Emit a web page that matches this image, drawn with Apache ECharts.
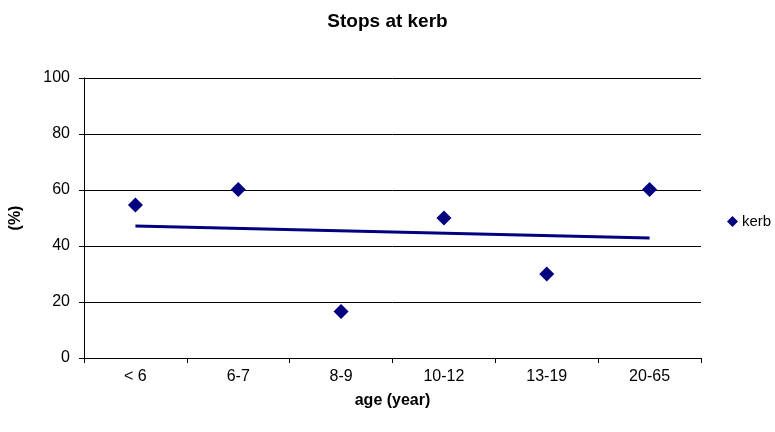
<!DOCTYPE html>
<html>
<head>
<meta charset="utf-8">
<script src="https://cdn.jsdelivr.net/npm/echarts@6/dist/echarts.min.js"></script>
<style>html,body{margin:0;padding:0;background:#fff;}#c{width:775px;height:432px;}</style>
</head>
<body>
<div id="c"></div>
<script>
const categories = ['< 6', '6-7', '8-9', '10-12', '13-19', '20-65'];
const kerbValues = [54.6, 60.2, 16.6, 50.0, 30.0, 60.2];
const trendValues = [47.1, null, null, null, null, 42.9];
const yTicks = [0, 20, 40, 60, 80, 100];

const chart = echarts.init(document.getElementById('c'), null, {renderer: 'canvas'});
const font = 'Liberation Sans, Arial, sans-serif';
chart.setOption({
  animation: false,
  backgroundColor: '#fff',
  textStyle: {fontFamily: font},
  title: {
    text: 'Stops at kerb', left: 'center', top: 7,
    textStyle: {fontFamily: font, fontSize: 19, fontWeight: 'bold', color: '#000'}
  },
  legend: {
    data: [{name: 'kerb', icon: 'diamond'}],
    left: 722, top: 209, itemWidth: 11, itemHeight: 11, itemGap: 4,
    textStyle: {fontFamily: font, fontSize: 15, color: '#000', padding: [0, 0, 0, -1]}
  },
  grid: {left: 82, right: 74, top: 78, bottom: 74, containLabel: false},
  xAxis: {
    type: 'category', data: categories, boundaryGap: true,
    name: 'age (year)', nameLocation: 'middle', nameGap: 35,
    nameTextStyle: {fontFamily: font, fontSize: 16, fontWeight: 'bold', color: '#000'},
    axisLine: {lineStyle: {color: '#000', width: 1}},
    axisTick: {show: true, length: 5, lineStyle: {color: '#000'}},
    axisLabel: {color: '#000', fontSize: 16, fontFamily: font, margin: 11},
    splitLine: {show: false}
  },
  yAxis: {
    type: 'value', min: yTicks[0], max: yTicks[yTicks.length - 1], interval: 20,
    name: '(%)', nameLocation: 'middle', nameGap: 60, nameRotate: 90,
    nameTextStyle: {fontFamily: font, fontSize: 16, fontWeight: 'bold', color: '#000'},
    axisLine: {show: true, lineStyle: {color: '#000', width: 1}},
    axisTick: {show: true, length: 5, lineStyle: {color: '#000'}},
    axisLabel: {color: '#000', fontSize: 16, fontFamily: font, margin: 14},
    splitLine: {show: true, lineStyle: {color: '#000', width: 1}}
  },
  series: [
    {
      name: 'kerb', type: 'scatter', data: kerbValues,
      symbol: 'diamond', symbolSize: 15,
      itemStyle: {color: '#000080', opacity: 1}
    },
    {
      name: 'trend', type: 'line', data: trendValues, connectNulls: true,
      showSymbol: false, symbol: 'none',
      lineStyle: {color: '#000080', width: 3},
      itemStyle: {color: '#000080'}
    }
  ]
});
</script>
</body>
</html>
